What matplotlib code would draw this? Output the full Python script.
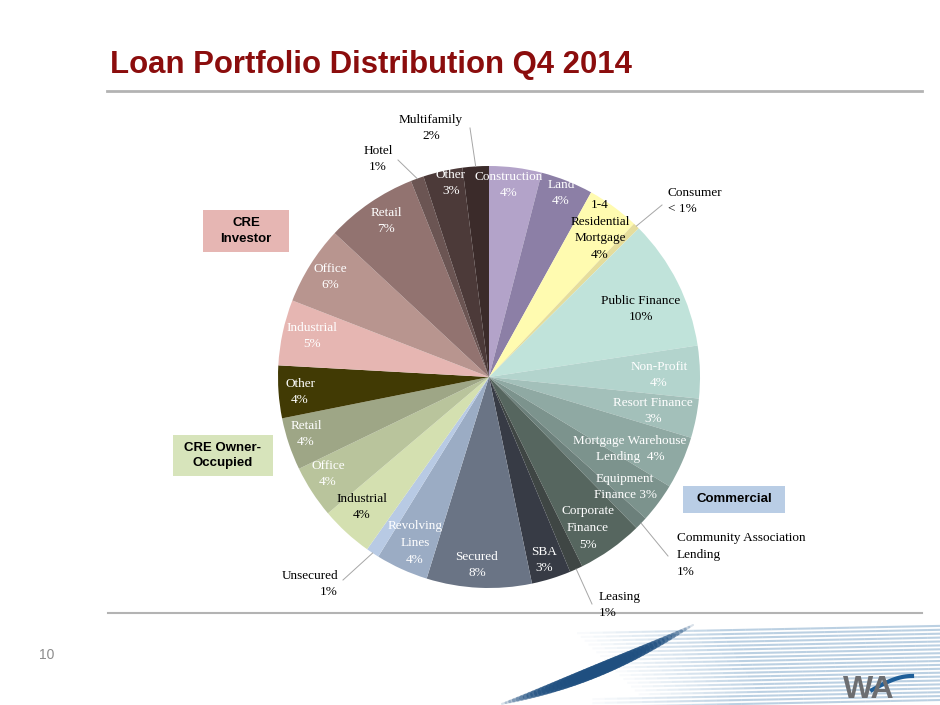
import matplotlib
matplotlib.use('Agg')
import matplotlib.pyplot as plt
from matplotlib.patches import Rectangle
import numpy as np

# slices, clockwise from 12 o'clock
names = ['Construction', 'Land', '1-4\nResidential\nMortgage', 'Consumer',
         'Public Finance', 'Non-Profit', 'Resort Finance',
         'Mortgage Warehouse\nLending', 'Equipment\nFinance',
         'Community Association\nLending', 'Corporate\nFinance', 'Leasing',
         'SBA', 'Secured', 'Revolving\nLines', 'Unsecured',
         'Industrial', 'Office', 'Retail', 'Other',
         'Industrial', 'Office', 'Retail', 'Hotel', 'Other', 'Multifamily']
shares = [4, 4, 4, 0.5, 10, 4, 3, 4, 3, 1, 5, 1, 3, 8, 4, 1,
          4, 4, 4, 4, 5, 6, 7, 1, 3, 2]
pct_text = ['4%', '4%', '4%', '< 1%', '10%', '4%', '3%', '4%', '3%', '1%',
            '5%', '1%', '3%', '8%', '4%', '1%', '4%', '4%', '4%', '4%',
            '5%', '6%', '7%', '1%', '3%', '2%']
colors = ['#b3a3c9', '#8c7fa6', '#fffbb0', '#e5dd9c', '#c0e3da', '#b3d4cd',
          '#a3c0ba', '#8fa9a3', '#7c938d', '#6c807b', '#56665f', '#3f4644',
          '#373b45', '#6a7485', '#9bacc4', '#b8cae4', '#d4e0b0', '#b9c49c',
          '#9ea686', '#413a04', '#e6b6b2', '#b8958f', '#927370', '#6b5553',
          '#4c3a39', '#3b2b2a']
text_colors = ['white', 'white', 'black', 'black', 'black', 'white', 'white',
               'white', 'white', 'black', 'white', 'black', 'white', 'white',
               'white', 'black', 'black', 'white', 'white', 'white', 'white',
               'white', 'white', 'black', 'white', 'black']
# how name and percent are joined
joins = ['\n'] * 26
joins[7] = '  '
joins[8] = ' '

# label layout in pixels (x, y, ha)
label_pos = [(509, 185, 'center'), (561, 193, 'center'), (600, 230, 'center'),
             (668, 201, 'left'), (641, 309, 'center'), (659, 375, 'center'),
             (653, 411, 'center'), (630, 449, 'center'), (625, 487, 'center'),
             (677, 555, 'left'), (588, 528, 'center'), (599, 605, 'left'),
             (544, 560, 'center'), (477, 565, 'center'), (415, 543, 'center'),
             (338, 584, 'right'), (362, 507, 'center'), (328, 474, 'center'),
             (306, 434, 'center'), (300, 392, 'center'), (312, 336, 'center'),
             (330, 277, 'center'), (386, 221, 'center'), (378, 159, 'center'),
             (451, 183, 'center'), (431, 128, 'center')]
# leader elbows for outside labels (index: elbow point)
leaders = {3: (662, 205), 9: (668, 556), 11: (592, 604), 15: (343, 580),
           23: (398, 160), 25: (470, 128)}

W, H = 940, 705
cx, cy, R = 489, 377, 211

fig = plt.figure(figsize=(W / 100, H / 100), dpi=100)
fig.patch.set_facecolor('white')

ov = fig.add_axes([0, 0, 1, 1])
ov.set_xlim(0, W)
ov.set_ylim(H, 0)
ov.axis('off')
ov.set_zorder(2)
ov.patch.set_alpha(0)

# decorative swoosh at bottom right (drawn first, under everything else)
for k in range(20):
    y0 = 706 - k * 3.9
    x_start = 700 - k * 4 if k > 2 else 640
    xs = np.linspace(x_start - 60, 940, 30)
    ys = y0 - (xs - 640) * 0.02
    for j in range(len(xs) - 1):
        a = min(1, j / 12) * 0.45
        ov.plot(xs[j:j + 2], ys[j:j + 2], color='#6a98c0', lw=1.5, alpha=a,
                solid_capstyle='butt')
t = np.linspace(0, 1, 50)
sx = 498 + 195 * t
sy = 705 - 55 * t - 25 * t ** 2
for j in range(len(t) - 1):
    s = np.sin(np.pi * t[j])
    ov.plot(sx[j:j + 2], sy[j:j + 2], color='#1f4f80', lw=8 * s + 1,
            alpha=0.85 * s ** 0.6, solid_capstyle='round')

ax = fig.add_axes([(cx - R) / W, (H - cy - R) / H, 2 * R / W, 2 * R / H])
wedges, _ = ax.pie(shares, colors=colors, startangle=90, counterclock=False,
                   radius=1, wedgeprops=dict(linewidth=0))
ax.set_xlim(-1, 1)
ax.set_ylim(-1, 1)
ax.set_aspect('equal')
ax.axis('off')
ax.set_zorder(1)

lab = fig.add_axes([0, 0, 1, 1])
lab.set_xlim(0, W)
lab.set_ylim(H, 0)
lab.axis('off')
lab.set_zorder(3)
lab.patch.set_alpha(0)

serif = 'Liberation Serif'
for i, w in enumerate(wedges):
    x, y, ha = label_pos[i]
    lab.text(x, y, names[i] + joins[i] + pct_text[i], ha=ha, va='center',
             fontsize=9.5, family=serif, color=text_colors[i], linespacing=1.55)
    if i in leaders:
        mid = np.deg2rad((w.theta1 + w.theta2) / 2)
        ex, ey = cx + R * np.cos(mid), cy - R * np.sin(mid)
        lx, ly = leaders[i]
        lab.plot([ex, lx], [ey, ly], color='#a6a6a6', lw=0.7)

# title and rules
lab.text(110, 65, 'Loan Portfolio Distribution Q4 2014', fontsize=22.4,
         fontweight='bold', family='Liberation Sans', color='#8b0d0d',
         ha='left', va='center')
lab.plot([107, 922], [91, 91], color='#b3b3b3', lw=2)
lab.plot([108, 922], [613, 613], color='#b3b3b3', lw=1.5)
lab.text(39, 655, '10', fontsize=10, color='#8c8c8c', family='Liberation Sans',
         ha='left', va='center')

# group boxes
boxes = [(203, 210, 86, 42, '#e6b6b3', 'CRE\nInvestor'),
         (173, 435, 100, 41, '#d7e4bb', 'CRE Owner-\nOccupied'),
         (683, 486, 102, 27, '#b9cde5', 'Commercial')]
for bx, by, bw, bh, fc, txt in boxes:
    lab.add_patch(Rectangle((bx, by), bw, bh, facecolor=fc, edgecolor='none'))
    lab.text(bx + bw / 2, by + bh / 2, txt, ha='center', va='center',
             fontsize=9.5, fontweight='bold', family='Liberation Sans',
             color='black', linespacing=1.4)

# logo
lab.text(869, 690, 'WA', fontsize=23, fontweight='bold', color='#6d6e71',
         family='Liberation Sans', ha='center', va='center')
lab.plot(np.linspace(872, 912, 20),
         690 - 14 * np.sin(np.linspace(0, np.pi / 2, 20)),
         color='#1f5f99', lw=3)

fig.savefig('out.png', dpi=100)
